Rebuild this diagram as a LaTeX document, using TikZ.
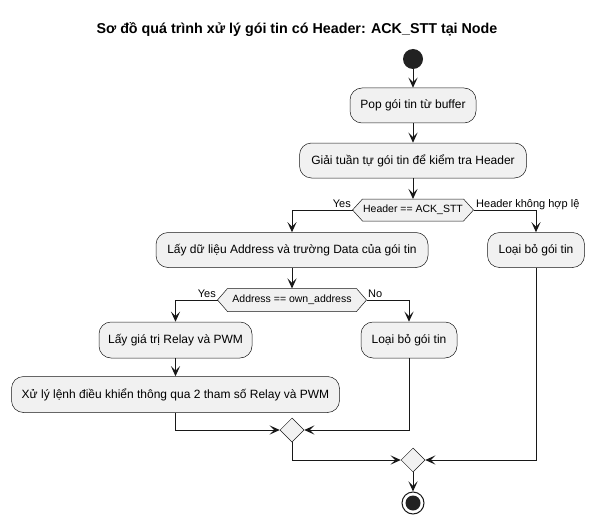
\documentclass[tikz,border=0pt]{standalone}
\usepackage{fontspec}
\setmainfont{Liberation Sans}
\usetikzlibrary{arrows.meta,shapes.geometric}
\definecolor{boxfill}{HTML}{F1F1F1}
\definecolor{ink}{HTML}{181818}
\definecolor{dot}{HTML}{222222}
\begin{document}
\begin{tikzpicture}[x=1pt,y=-1pt,
 act/.style={draw=ink,fill=boxfill,line width=0.5pt,rounded corners=12pt,minimum height=35pt,inner sep=0pt,font=\fontsize{12}{14}\selectfont},
 hextext/.style={inner sep=0pt,font=\fontsize{10.5}{13}\selectfont},
 lbl/.style={inner sep=0pt,font=\fontsize{11}{13}\selectfont},
 merge/.style={diamond,draw=ink,fill=boxfill,line width=0.5pt,minimum width=24pt,minimum height=24pt,inner sep=0pt},
 flow/.style={draw=ink,line width=1pt,-{Stealth[length=10pt,width=9pt,inset=4.5pt]}},
 hexshape/.style={draw=ink,fill=boxfill,line width=0.5pt}]
\useasboundingbox (0,0) rectangle (594,524);
\fill[white] (0,0) rectangle (594,524);

\node[font=\bfseries\fontsize{14.3}{16}\selectfont] (title) at (297,30) {Sơ đồ quá trình xử lý gói tin có Header: ACK\_STT tại Node};

\node[circle,fill=dot,minimum size=20pt,inner sep=0pt] (start) at (413,59) {};

\node[act,minimum width=126pt] (pop) at (413,105.5) {Pop gói tin từ buffer};
\node[act,minimum width=227pt] (dec) at (413,160.5) {Giải tuần tự gói tin để kiểm tra Header};

% hexagon 1
\coordinate (h1l) at (352.5,210);
\coordinate (h1r) at (473.5,210);
\coordinate (h1t) at (413,199);
\draw[hexshape] (h1l) -- (362.5,199) -- (463.5,199) -- (h1r) -- (463.5,221) -- (362.5,221) -- cycle;
\node[hextext] (h1) at (413,210) {Header == ACK\_STT};

\node[act,minimum width=272pt] (getdata) at (292,250) {Lấy dữ liệu Address và trường Data của gói tin};
\node[act,minimum width=97pt] (drop1) at (536,250) {Loại bỏ gói tin};

% hexagon 2
\coordinate (h2l) at (217.5,300);
\coordinate (h2r) at (366.5,300);
\coordinate (h2t) at (292,288.5);
\draw[hexshape] (h2l) -- (227.5,288.5) -- (356.5,288.5) -- (h2r) -- (356.5,311.5) -- (227.5,311.5) -- cycle;
\node[hextext] (h2) at (292,300) {Address == own\_address};

\node[act,minimum width=153pt,minimum height=36pt] (getrelay) at (175.5,340) {Lấy giá trị Relay và PWM};
\node[act,minimum width=96pt,minimum height=36pt] (drop2) at (409,340) {Loại bỏ gói tin};
\node[act,minimum width=328pt,minimum height=36pt] (exec) at (175.5,394.5) {Xử lý lệnh điều khiển thông qua 2 tham số Relay và PWM};

\node[merge] (m1) at (292,430) {};
\node[merge] (m2) at (413,460) {};

\node[circle,draw=ink,line width=1pt,fill=white,minimum size=22pt,inner sep=0pt] (stop) at (413,503) {};
\fill[dot] (stop.center) circle (7.5pt);

% labels
\node[lbl,anchor=base east] (yes1) at (351,207) {Yes};
\node[lbl,anchor=base west] (no1) at (476,207) {Header không hợp lệ};
\node[lbl,anchor=base east] (yes2) at (216,297) {Yes};
\node[lbl,anchor=base west] (no2) at (368,297) {No};

% connectors
\draw[flow] (start) -- (pop);
\draw[flow] (pop) -- (dec);
\draw[flow] (dec) -- (h1t);
\draw[flow] (h1l) -| (getdata.north);
\draw[flow] (h1r) -| (drop1.north);
\draw[flow] (getdata) -- (h2t);
\draw[flow] (h2l) -| (getrelay.north);
\draw[flow] (h2r) -| (drop2.north);
\draw[flow] (getrelay) -- (exec);
\draw[flow] (exec.south) |- (m1.west);
\draw[flow] (drop2.south) |- (m1.east);
\draw[flow] (m1.south) |- (m2.west);
\draw[flow] (drop1.south) |- (m2.east);
\draw[flow] (m2) -- (stop);
\end{tikzpicture}
\end{document}
